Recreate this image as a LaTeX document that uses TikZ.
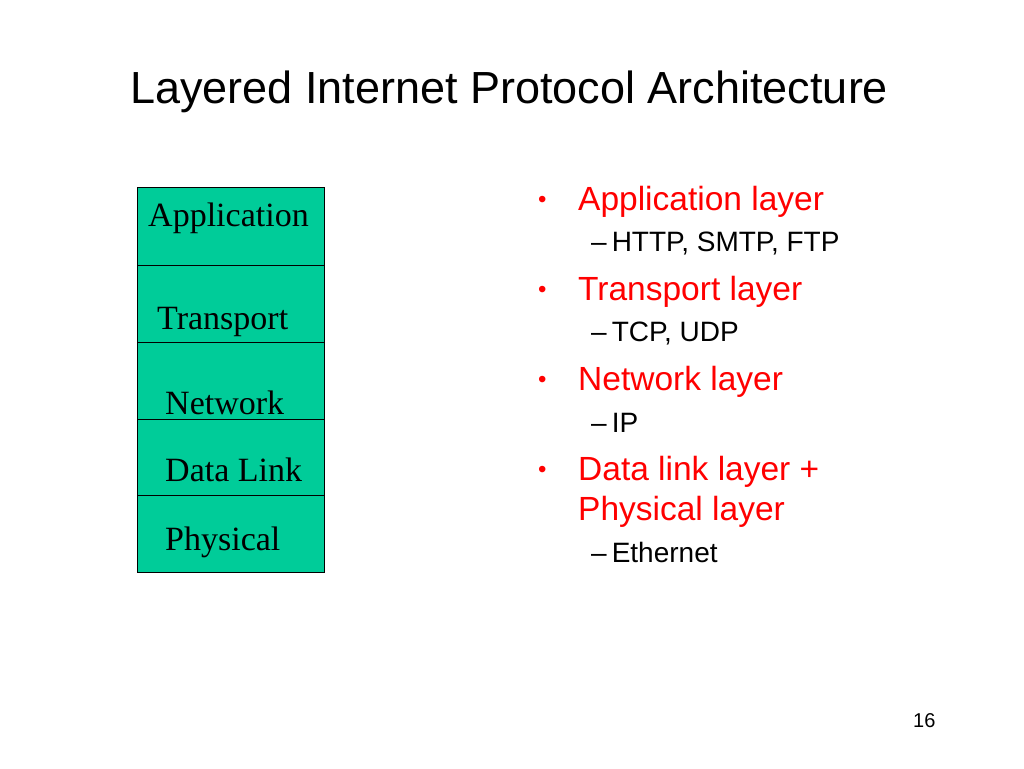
\documentclass[tikz,border=0pt]{standalone}
\usepackage{fontspec}
\setmainfont{Liberation Sans}
\newfontfamily\serifx{Liberation Serif}
\definecolor{boxg}{RGB}{0,204,153}
\definecolor{redt}{RGB}{255,0,0}
\begin{document}
\begin{tikzpicture}[x=1pt,y=-1pt,
  layer/.style={draw=black,fill=boxg,line width=0.8pt,minimum width=187pt,inner sep=0pt,anchor=north west},
  lbl/.style={anchor=base west,inner sep=0pt,font=\serifx\fontsize{34}{34}\selectfont},
  main/.style={anchor=base west,inner sep=0pt,text=redt,font=\fontsize{33.5}{34}\selectfont},
  bul/.style={anchor=base west,inner sep=0pt,text=redt,font=\fontsize{24}{24}\selectfont},
  sub/.style={anchor=base west,inner sep=0pt,font=\fontsize{28}{28}\selectfont}]
\useasboundingbox (0,0) rectangle (1024,768);
\node[anchor=base west,inner sep=0pt,font=\fontsize{45}{45}\selectfont] (title) at (130,103) {Layered Internet Protocol Architecture};
\node[layer,minimum height=78pt] (b1) at (137,187) {};
\node[layer,minimum height=77pt] (b2) at (137,265) {};
\node[layer,minimum height=77pt] (b3) at (137,342) {};
\node[layer,minimum height=76pt] (b4) at (137,419) {};
\node[layer,minimum height=77pt] (b5) at (137,495) {};
\node[lbl] (l1) at (148,226) {Application};
\node[lbl] (l2) at (157,329) {Transport};
\node[lbl] (l3) at (165,414) {Network};
\node[lbl] (l4) at (165,481) {Data Link};
\node[lbl] (l5) at (165,550) {Physical};
\node[bul] (d1) at (538,207) {•};
\node[main] (a1) at (578,210) {Application layer};
\node[sub] (s1) at (591,251) {–\hspace{5pt}HTTP, SMTP, FTP};
\node[bul] (d2) at (538,297) {•};
\node[main] (a2) at (578,300) {Transport layer};
\node[sub] (s2) at (591,341) {–\hspace{5pt}TCP, UDP};
\node[bul] (d3) at (538,387) {•};
\node[main] (a3) at (578,390) {Network layer};
\node[sub] (s3) at (591,432) {–\hspace{5pt}IP};
\node[bul] (d4) at (538,477) {•};
\node[main] (a4) at (578,480) {Data link layer +};
\node[main] (a5) at (578,520) {Physical layer};
\node[sub] (s4) at (591,562) {–\hspace{5pt}Ethernet};
\node[anchor=base west,inner sep=0pt,font=\fontsize{20}{20}\selectfont] (pg) at (913,727) {16};
\end{tikzpicture}
\end{document}
